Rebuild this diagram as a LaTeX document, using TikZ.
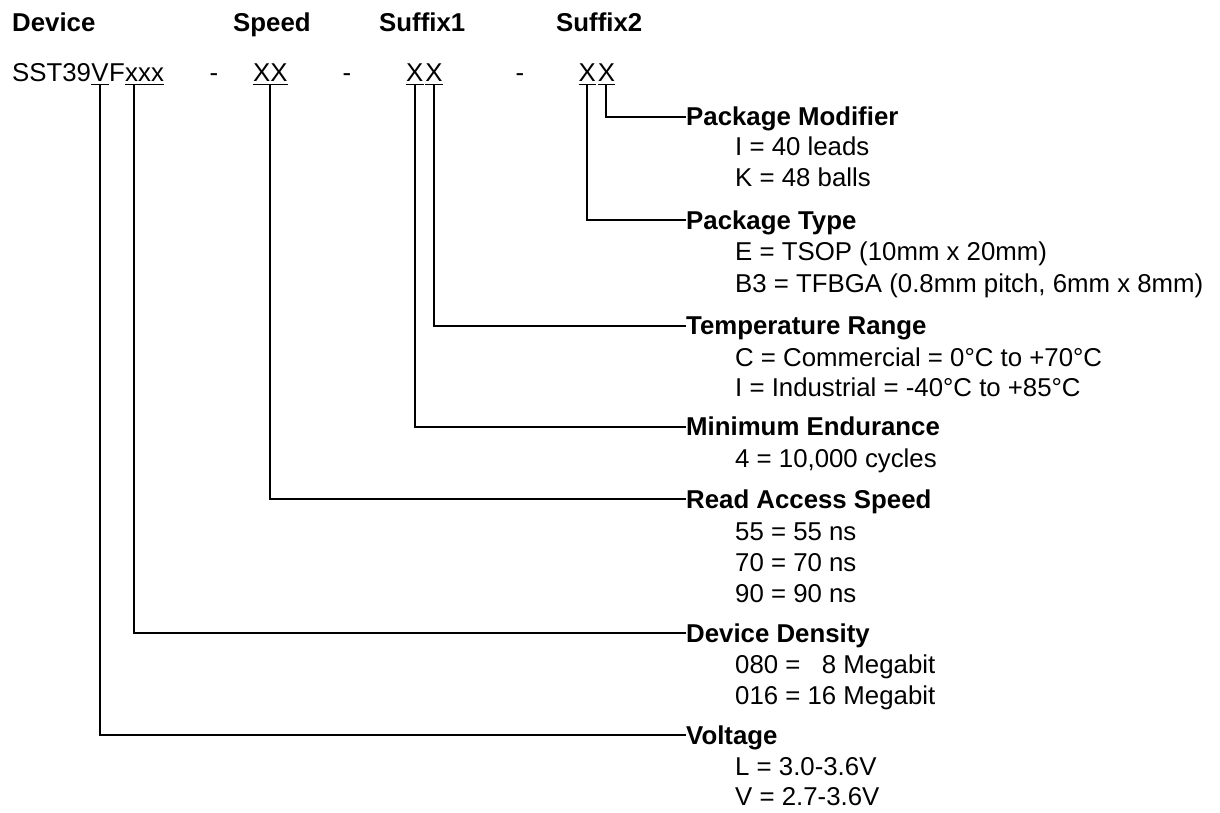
\documentclass[tikz,border=0pt]{standalone}
\usepackage{fontspec}
\setmainfont{Liberation Sans}
\usetikzlibrary{calc}
\begin{document}
\begin{tikzpicture}[x=1pt,y=-1pt,
  hdr/.style={anchor=base west,inner sep=0pt,font=\fontsize{25.8}{30}\selectfont\bfseries},
  pn/.style={anchor=base west,inner sep=0pt,text depth=2.5pt,font=\fontsize{25.8}{30}\selectfont},
  lbl/.style={anchor=west,inner sep=0pt,text height=18.6pt,text depth=0pt,font=\fontsize{25.8}{30}\selectfont\bfseries},
  itm/.style={anchor=base west,inner sep=0pt,font=\fontsize{25.8}{30}\selectfont},
  ul/.style={line width=1.3pt},
  conn/.style={line width=2pt}]
\useasboundingbox (0,0) rectangle (1220,813);
% headers
\node[hdr] (hDev) at (12,32) {Device};
\node[hdr] (hSpd) at (233,32) {Speed};
\node[hdr] (hS1) at (379,32) {Suffix1};
\node[hdr] (hS2) at (556,32) {Suffix2};
% part number
\node[pn] (sst) at (12,82) {SST39};
\node[pn,anchor=base west] (vv) at (sst.base east) {V};
\node[pn,anchor=base west] (ff) at (vv.base east) {F};
\node[pn,anchor=base west] (xxx) at (ff.base east) {xxx};
\coordinate (xdrop) at ($(xxx.south west)+(9,0)$);
\node[pn,anchor=base] (d1) at (214,82) {-};
\node[pn] (spd) at (253,82) {XX};
\node[pn,anchor=base] (d2) at (347,82) {-};
\node[pn] (s1a) at (406,82) {X};
\node[pn,anchor=base west] (s1b) at ($(s1a.base east)+(1.5,0)$) {X};
\node[pn,anchor=base] (d3) at (520,82) {-};
\node[pn] (s2a) at (578.5,82) {X};
\node[pn,anchor=base west] (s2b) at ($(s2a.base east)+(1.5,0)$) {X};
\foreach \n in {vv,xxx,spd,s1a,s1b,s2a,s2b}
  \draw[ul] (\n.south west) -- (\n.south east);
% labels
\node[lbl] (pm) at (686,116.7) {Package Modifier};
\node[itm] (pm1) at (735,156) {I = 40 leads};
\node[itm] (pm2) at (735,186) {K = 48 balls};
\node[lbl] (pt) at (686,220) {Package Type};
\node[itm] (pt1) at (735,260) {E = TSOP (10mm x 20mm)};
\node[itm] (pt2) at (735,292) {B3 = TFBGA (0.8mm pitch, 6mm x 8mm)};
\node[lbl] (tr) at (686,325.5) {Temperature Range};
\node[itm] (tr1) at (735,366) {C = Commercial = 0°C to +70°C};
\node[itm] (tr2) at (735,396) {I = Industrial = -40°C to +85°C};
\node[lbl] (me) at (686,426.5) {Minimum Endurance};
\node[itm] (me1) at (735,467) {4 = 10,000 cycles};
\node[lbl] (ras) at (686,499) {Read Access Speed};
\node[itm] (ras1) at (735,540) {55 = 55 ns};
\node[itm] (ras2) at (735,571) {70 = 70 ns};
\node[itm] (ras3) at (735,602) {90 = 90 ns};
\node[lbl] (dd) at (686,633) {Device Density};
\node[itm] (dd1) at (735,673) {080 = \ \ 8 Megabit};
\node[itm] (dd2) at (735,704) {016 = 16 Megabit};
\node[lbl] (vo) at (686,735) {Voltage};
\node[itm] (vo1) at (735,775) {L = 3.0-3.6V};
\node[itm] (vo2) at (735,805) {V = 2.7-3.6V};
% connectors
\draw[conn] (s2b.south) |- (pm.west);
\draw[conn] (s2a.south) |- (pt.west);
\draw[conn] (s1b.south) |- (tr.west);
\draw[conn] (s1a.south) |- (me.west);
\draw[conn] (spd.south) |- (ras.west);
\draw[conn] (xdrop) |- (dd.west);
\draw[conn] (vv.south) |- (vo.west);
\end{tikzpicture}
\end{document}
